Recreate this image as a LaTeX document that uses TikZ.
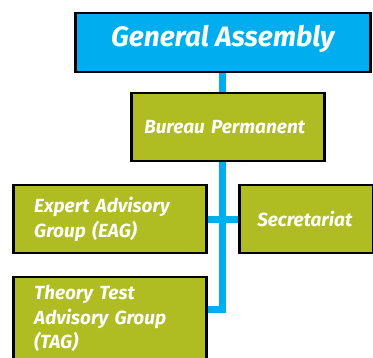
\documentclass[tikz,border=0pt]{standalone}
\usepackage{fontspec}
\setmainfont{Fira Sans}
\newcommand\orgfont{\bfseries\itshape}
\usetikzlibrary{backgrounds}
\definecolor{gacyan}{HTML}{00AEEF}
\definecolor{unitolive}{HTML}{AFBD22}
\tikzset{
    orgbox/.style={draw=black, line width=2.5pt, rectangle, anchor=north west, text=white, align=left},
    gabox/.style={orgbox, fill=gacyan, align=center, font=\orgfont\fontsize{28}{32}\selectfont},
    unitbox/.style={orgbox, fill=unitolive, font=\orgfont\fontsize{19}{24.5}\selectfont},
    orgline/.style={draw=gacyan, line width=7pt}
}
\begin{document}
\begin{tikzpicture}[x=1pt,y=-1pt]
        \useasboundingbox (0,0) rectangle (373,358);
        % --- Draw the boxes ---
        \node[gabox, minimum width=295pt, minimum height=59pt, text height=20pt, text depth=12pt] (ga) at (74,12) {General Assembly};
        \node[unitbox, minimum width=193pt, minimum height=68pt, text width=167pt, inner xsep=13pt] (bp) at (130,92) {Bureau Permanent};
        \node[unitbox, minimum width=193pt, minimum height=68pt, text width=151pt, inner xsep=21pt] (eag) at (12,184) {Expert Advisory\\Group (EAG)};
        \node[unitbox, minimum width=134pt, minimum height=68pt, text width=98pt, inner xsep=18pt] (sec) at (238,184) {Secretariat\\[4pt]};
        \node[unitbox, minimum width=193pt, text width=151pt, inner xsep=21pt, inner ysep=8pt] (tag) at (12,276) {Theory Test\\Advisory Group\\(TAG)\rule[-20pt]{0pt}{0pt}};
        % ---

        % --- Draw the connecting lines ---
        \coordinate (tagjoin) at (222.5,310);
        \begin{scope}[on background layer]
            \draw[orgline] (ga.south -| tagjoin) -- (tagjoin) -- (tagjoin -| tag.east);
            \draw[orgline] (eag.east) -- (sec.west);
        \end{scope}
        % ---
    \end{tikzpicture}
\end{document}
